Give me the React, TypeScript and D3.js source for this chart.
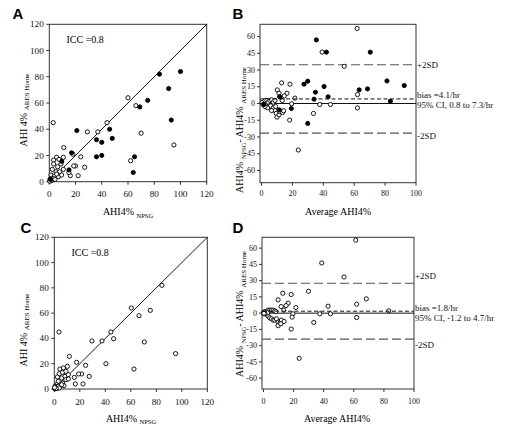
import React from 'react';
import * as d3 from 'd3';

type P = [number, number];

// Panel A: AHI4% NPSG (x) vs AHI4% ARES Home (y)
const A_FILLED: P[] = [
  [100, 84], [84, 82], [91, 71], [75, 62], [69, 57], [93, 47], [21, 39], [46, 40],
  [36, 32], [40, 30], [48, 33], [36, 19], [40, 20], [65, 19], [64, 7], [17, 22],
  [9.5, 15.5], [15, 9], [1, 2],
];
const A_OPEN: P[] = [
  [60, 64], [66, 58], [44, 45], [3, 45], [29, 38], [37, 38], [70, 37], [95, 28],
  [11, 26], [24, 19], [62, 16], [27, 11], [20, 12], [18.6, 12], [22, 4.6], [16, 4.6],
  [15, 7], [18, 21], [10.7, 18.6],
  [3.3, 16.5], [5.6, 18.6], [7.4, 17], [3.3, 13.5], [6.4, 11.4], [8.9, 13.5], [2.3, 9.4],
  [5.1, 7.6], [7.9, 7.6], [10.7, 9.4], [1.3, 5.1], [3.8, 4.3], [6.9, 3.8], [9.4, 5.1],
  [0.5, 1.8], [1.8, 0.8], [3, 2.5], [0.3, 0.3], [1, 1.3], [4.3, 1.8], [5.6, 5.8],
];

// Panel B: average (x) vs difference (y)
const B_FILLED: P[] = [
  [35.5, 57], [42, 46], [70.4, 46], [29.9, 20], [27.5, 17.3], [40.5, 15.2], [34.9, 10.1],
  [81.2, 20.2], [92.4, 16.1], [63.2, 12.2], [68.6, 13.1], [43.1, 6], [34, 3.9], [83.4, 2.1],
  [11.7, 6], [11.5, -5.7], [19.3, -4.5], [29.9, -17.9], [1.5, -1],
];
const B_OPEN: P[] = [
  [61.9, 67.3], [39.2, 46.1], [53.5, 33.3], [13, 18.5], [18.4, 17.3], [10.2, 12.2],
  [11.3, 9.2], [16.5, 9.2], [14.7, 6.8], [21.6, 4.8], [13.4, 2.7], [62.1, 8], [37.7, -0.9],
  [44.6, -0.9], [19.5, -0.3], [62.1, -3.9], [33.6, -8.9], [18.2, -14.9], [23.8, -41.7],
  [0.4, 0.9], [1.1, -0.9], [2.2, 2.7], [2.8, -0.3], [3.5, 2.7], [4.3, 1.2], [5.4, 2.7],
  [5.8, -2.1], [6.5, 3.3], [7.6, 1.2], [7.6, -3.9], [8.7, 2.7], [8.7, -6.3], [9.5, -8.9],
  [10, -12.2], [11.3, -10.1], [11.9, -7.4], [13.6, -8], [14.3, -6.5], [9.1, -2.7],
  [6.5, -6.3], [3.9, -3.9], [2.2, -2.7],
];
const B_BIAS = 4.1;
const B_UPPER = 34.8;
const B_LOWER = -26.6;
const B_LABELS = ['bias =4.1/hr', '95% CI, 0.8 to 7.3/hr'];

// Panel C
const C_OPEN: P[] = [
  [84.4, 82], [60.4, 64.1], [75.3, 62.2], [66.4, 58], [44.4, 45.1], [3.7, 45.1], [46.5, 39.8],
  [29.5, 38], [37.4, 38], [70.6, 37.2], [95.1, 28], [11.8, 25.8], [40.5, 20], [17.5, 21.1],
  [24.6, 18.7], [62.5, 15.8], [27.4, 10], [21.4, 11.9], [19.1, 11.9], [15.7, 9.2], [16.5, 4],
  [22.5, 4],
  [4.4, 15.8], [7.1, 16.6], [10.2, 17.9], [3.9, 12.1], [6.5, 13.2], [9.1, 14], [2.4, 9.5],
  [5.8, 8.7], [8.4, 10], [11, 11.3], [3.1, 6.1], [6.5, 4.7], [9.1, 7.4], [1.8, 3.4],
  [4.4, 2.1], [7.6, 2.6], [0.5, 0.8], [1.3, 2.1], [2.4, 0.5], [0.5, 2.1], [0.3, 0.3],
  [3.1, 2.1], [5.8, 3.4], [3.9, 0.8], [11, 7.9], [1, 1], [0.8, 0.2], [1.5, 0.5], [0.2, 1.2],
];

// Panel D
const D_OPEN: P[] = [
  [61.3, 67.4], [38.7, 46.3], [53.5, 33.4], [29.9, 20.2], [12.8, 18.4], [18.4, 17.2],
  [68.3, 13.2], [9.7, 12.3], [16.4, 9.2], [15, 7], [11.7, 6.1], [21.5, 5.2], [42.9, 6.4],
  [61.9, 8.3], [13.5, 2.8], [83.2, 2.1], [37.4, -0.6], [44.5, -0.6], [19.5, -0.6],
  [19, -3.7], [61.9, -4], [33.4, -8.6], [18.4, -14.7], [23.7, -41.7],
  [3.1, 2.8], [4.2, 2.8], [5.3, 2.8], [6.4, 2.8], [7.5, 2.1], [8.2, 1.5], [0.9, 0.3],
  [2, -1.2], [3.1, -2.8], [4.2, -4.3], [5.3, -5.2], [6.4, -6.4], [7.5, -6.4], [8.6, -5.2],
  [9.7, -8.3], [11.1, -8.9], [11.9, -6.4], [13.7, -7.7], [9.7, -11.6], [11.5, -9.8],
  [1.3, 1.5], [2.7, 0.3], [0.2, 0.9], [0.4, -0.6], [0, 0], [0.5, 0.2], [1, -0.4], [0.3, -0.2],
];
const D_BIAS = 1.8;
const D_UPPER = 27.6;
const D_LOWER = -24.0;
const D_LABELS = ['bias =1.8/hr', '95% CI, -1.2 to 4.7/hr'];

const SCATTER_TICKS = [0, 20, 40, 60, 80, 100, 120];
const BA_X_TICKS = [0, 20, 40, 60, 80, 100];
const BA_Y_TICKS = [-60, -45, -30, -15, 0, 15, 30, 45, 60];
const ICC_LABEL = 'ICC =0.8';

const SERIF = "'Liberation Serif', 'Times New Roman', Times, serif";
const SANS = "'Liberation Sans', Arial, sans-serif";
const serif = { fontFamily: SERIF };
const TITLE_FS = 10;
const SUB_FS = 6.5;
const R = 2.1;

type Scale = d3.ScaleLinear<number, number>;

function Frame({ x, y }: { x: Scale; y: Scale }) {
  const [x0, x1] = x.range();
  const [y0, y1] = y.range();
  return (
    <rect x={x0} y={y1} width={x1 - x0} height={y0 - y1} fill="none" stroke="#333" strokeWidth={1} />
  );
}

function Axes({ x, y, xTicks, yTicks, xLabelDy, fs, gap }: { x: Scale; y: Scale; xTicks: number[]; yTicks: number[]; xLabelDy: number; fs: number; gap: number }) {
  const left = x.range()[0];
  const bottom = y.range()[0];
  return (
    <g style={serif} fontSize={fs} fill="#111">
      {yTicks.map((t) => (
        <g key={'y' + t}>
          <line x1={left - 3} x2={left} y1={y(t)} y2={y(t)} stroke="#333" />
          <text x={left - gap} y={y(t)} dy="0.33em" textAnchor="end" style={serif}>{t}</text>
        </g>
      ))}
      {xTicks.map((t) => (
        <g key={'x' + t}>
          <line x1={x(t)} x2={x(t)} y1={bottom} y2={bottom + 3} stroke="#333" />
          <text x={x(t)} y={bottom + xLabelDy} textAnchor="middle" style={serif}>{t}</text>
        </g>
      ))}
    </g>
  );
}

function Points({ x, y, data, filled }: { x: Scale; y: Scale; data: P[]; filled: boolean }) {
  return (
    <g>
      {data.map((d, i) => (
        <circle key={i} cx={x(d[0])} cy={y(d[1])} r={R}
          fill={filled ? '#000' : '#fff'} stroke="#000" strokeWidth={0.9} />
      ))}
    </g>
  );
}

function ScatterPanel({ x, y, open, filled, letter, letterPos, yTitleX, yTitleY, xTitleX, xTitleY, iccPos }: any) {
  return (
    <g>
      <Frame x={x} y={y} />
      <line x1={x(0)} y1={y(0)} x2={x(120)} y2={y(120)} stroke="#000" strokeWidth={0.9} />
      <Axes x={x} y={y} xTicks={SCATTER_TICKS} yTicks={SCATTER_TICKS} xLabelDy={15.5} fs={9.2} gap={5.5} />
      <Points x={x} y={y} data={open} filled={false} />
      {filled && <Points x={x} y={y} data={filled} filled={true} />}
      <text x={iccPos[0]} y={iccPos[1]} style={serif} fontSize={TITLE_FS}>{ICC_LABEL}</text>
      <text x={letterPos[0]} y={letterPos[1]} style={{ fontFamily: SANS }} fontWeight="900" fontSize={15}>{letter}</text>
      <text x={xTitleX} y={xTitleY} style={serif} fontSize={TITLE_FS} textAnchor="middle">
        AHI4% <tspan fontSize={SUB_FS} dy={2.5}>NPSG</tspan>
      </text>
      <text transform={`translate(${yTitleX},${yTitleY}) rotate(-90)`} style={serif} fontSize={TITLE_FS} textAnchor="middle">
        AHI 4% <tspan fontSize={SUB_FS + 0.5} dy={2.5}>ARES Home</tspan>
      </text>
    </g>
  );
}

function BAPanel({ x, y, open, filled, bias, upper, lower, labels, letter, letterPos, yTitleX, yTitleY, xTitleX, xTitleY, xLabelDy, upLabelDy, lowLabelDy }: any) {
  const [x0, x1] = x.range();
  return (
    <g>
      <Frame x={x} y={y} />
      <Axes x={x} y={y} xTicks={BA_X_TICKS} yTicks={BA_Y_TICKS} xLabelDy={xLabelDy} fs={8} gap={5} />
      <line x1={x0} x2={x1} y1={y(upper)} y2={y(upper)} stroke="#555" strokeWidth={1.1} strokeDasharray="9,4" />
      <line x1={x0} x2={x1} y1={y(lower)} y2={y(lower)} stroke="#555" strokeWidth={1.1} strokeDasharray="9,4" />
      <line x1={x0} x2={x1} y1={y(0)} y2={y(0)} stroke="#111" strokeWidth={1} />
      <Points x={x} y={y} data={open} filled={false} />
      {filled && <Points x={x} y={y} data={filled} filled={true} />}
      <line x1={x0} x2={x1} y1={y(bias)} y2={y(bias)} stroke="#111" strokeWidth={1} strokeDasharray="4,2.5" />
      <g style={serif} fontSize={9} fill="#111">
        <text x={x1 + 1} y={y(upper) + upLabelDy} style={serif}>+2SD</text>
        <text x={x1 + 1} y={y(bias) - 0.5} style={serif}>{labels[0]}</text>
        <text x={x1 + 1} y={y(bias) + 9.5} style={serif}>{labels[1]}</text>
        <text x={x1 + 1} y={y(lower) + lowLabelDy} style={serif}>-2SD</text>
      </g>
      <text x={letterPos[0]} y={letterPos[1]} style={{ fontFamily: SANS }} fontWeight="900" fontSize={15}>{letter}</text>
      <text x={xTitleX} y={xTitleY} style={serif} fontSize={TITLE_FS} textAnchor="middle">Average AHI4%</text>
      <text transform={`translate(${yTitleX},${yTitleY}) rotate(-90)`} style={serif} fontSize={TITLE_FS} textAnchor="middle">
        AHI4% <tspan fontSize={SUB_FS} dy={2.5}>NPSG</tspan><tspan dy={-2.5}>- AHI4% </tspan><tspan fontSize={SUB_FS + 0.5} dy={2.5}>ARES Home</tspan>
      </text>
    </g>
  );
}

export default function App() {
  const ax = d3.scaleLinear().domain([0, 120]).range([49.3, 206.7]);
  const ay = d3.scaleLinear().domain([0, 120]).range([181.7, 24.3]);
  const cx = d3.scaleLinear().domain([0, 120]).range([54.3, 207.3]);
  const cy = d3.scaleLinear().domain([0, 120]).range([389, 237.3]);
  const bx = d3.scaleLinear().domain([-1, 100]).range([260, 416]);
  const by = d3.scaleLinear().domain([-71, 71]).range([182.7, 24.3]);
  const dx = d3.scaleLinear().domain([-1, 100]).range([262, 414]);
  const dy = d3.scaleLinear().domain([-70, 70]).range([389, 237.3]);

  return (
    <svg width={507} height={431} style={{ position: 'absolute', left: 0, top: 0, background: '#fff', fontFamily: SERIF }}>
      <rect x={0} y={0} width={507} height={431} fill="#fff" />
      <ScatterPanel x={ax} y={ay} open={A_OPEN} filled={A_FILLED} letter="A" letterPos={[12.5, 18.5]}
        yTitleX={26.5} yTitleY={110} xTitleX={128} xTitleY={215} iccPos={[66.5, 42.5]} />
      <BAPanel x={bx} y={by} open={B_OPEN} filled={B_FILLED} bias={B_BIAS} upper={B_UPPER} lower={B_LOWER}
        labels={B_LABELS} letter="B" letterPos={[232.5, 18.5]} yTitleX={243} yTitleY={130}
        xTitleX={338} xTitleY={215} xLabelDy={13.5} upLabelDy={3} lowLabelDy={6} />
      <ScatterPanel x={cx} y={cy} open={C_OPEN} filled={null} letter="C" letterPos={[20.5, 232.5]}
        yTitleX={26.5} yTitleY={330} xTitleX={131} xTitleY={421.5} iccPos={[71.5, 255.5]} />
      <BAPanel x={dx} y={dy} open={D_OPEN} filled={null} bias={D_BIAS} upper={D_UPPER} lower={D_LOWER}
        labels={D_LABELS} letter="D" letterPos={[232.5, 232.5]} yTitleX={243} yTitleY={314}
        xTitleX={337} xTitleY={421.5} xLabelDy={15} upLabelDy={-4.5} lowLabelDy={8.5} />
    </svg>
  );
}
